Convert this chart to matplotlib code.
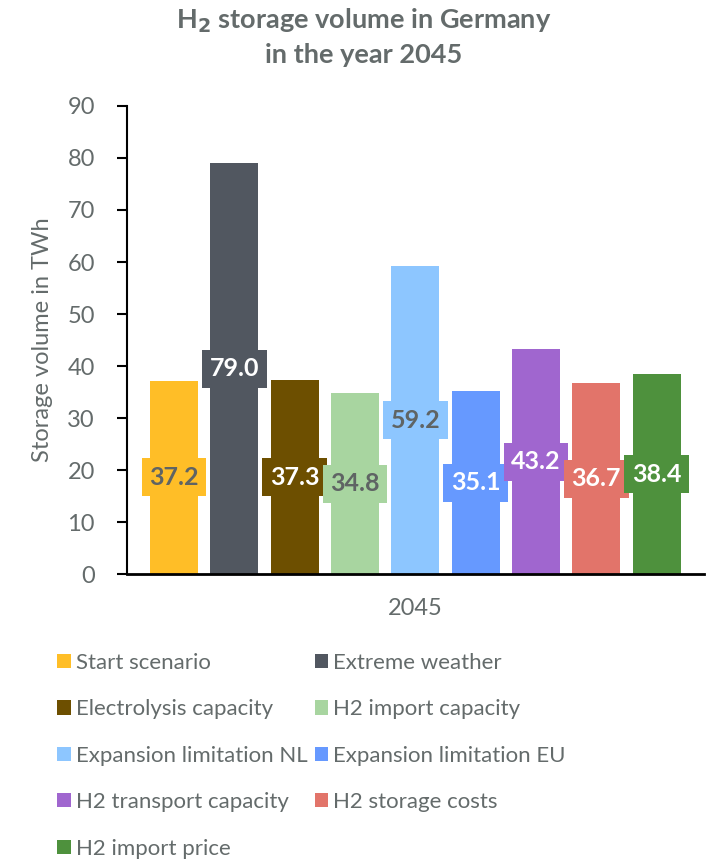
import numpy as np
import matplotlib.pyplot as plt

scenarios = ['Start scenario', 'Extreme weather', 'Electrolysis capacity',
             'H2 import capacity', 'Expansion limitation NL', 'Expansion limitation EU',
             'H2 transport capacity', 'H2 storage costs', 'H2 import price']
volumes = [37.2, 79.0, 37.3, 34.8, 59.2, 35.1, 43.2, 36.7, 38.4]
colors = ['#FFBE27', '#515760', '#6D4F00', '#A8D5A0', '#8DC6FF',
          '#6699FF', '#A066CF', '#E2746A', '#4E913D']
label_colors = ['#5F6464', 'white', 'white', '#5F6464', '#5F6464',
                'white', 'white', 'white', 'white']
year_label = '2045'
yticks = [0, 10, 20, 30, 40, 50, 60, 70, 80, 90]

plt.rcParams['font.family'] = ['Lato', 'DejaVu Sans']
gray = '#646B6B'

fig = plt.figure(figsize=(7.13, 8.61), dpi=100)
ax = fig.add_axes([0.178, 0.3333, 0.809, 0.5436])

x = np.arange(len(volumes))
bars = []
for i, (name, v, c) in enumerate(zip(scenarios, volumes, colors)):
    b = ax.bar(x[i], v, width=0.8, color=c, label=name)
    bars.append(b)
    ax.text(x[i], v / 2, f'{v:.1f}', ha='center', va='center', fontsize=18,
            fontweight='bold', color=label_colors[i],
            bbox=dict(boxstyle='square,pad=0.3', facecolor=c, edgecolor='none'))

ax.set_xlim(-0.78, len(volumes) - 1 + 0.78)
ax.set_ylim(0, 90)
ax.set_yticks(yticks)
ax.set_xticks([(len(volumes) - 1) / 2])
ax.set_xticklabels([year_label])
ax.tick_params(axis='x', length=0, pad=17, labelsize=17, labelcolor=gray)
ax.tick_params(axis='y', length=7, width=1.5, pad=16, labelsize=17, labelcolor=gray)
for s in ['top', 'right']:
    ax.spines[s].set_visible(False)
ax.spines['left'].set_linewidth(1.5)
ax.spines['bottom'].set_linewidth(2)

ax.set_ylabel('Storage volume in TWh', fontsize=17, color=gray, labelpad=10)

fig.text(0.51, 0.993, r'H$_\mathbf{2}$ storage volume in Germany' + '\nin the year 2045',
         ha='center', va='top', fontsize=19.5, fontweight='bold', color=gray,
         linespacing=1.4)

# row-major legend order for two columns
order = [0, 2, 4, 6, 8, 1, 3, 5, 7]
leg = fig.legend([bars[k] for k in order], [scenarios[k] for k in order],
                 loc='upper left', bbox_to_anchor=(0.068, 0.252), ncol=2,
                 frameon=False, fontsize=16, handlelength=0.6, handleheight=0.6,
                 handletextpad=0.25, columnspacing=0.3, labelspacing=1.19,
                 borderaxespad=0)
for t in leg.get_texts():
    t.set_color(gray)

fig.savefig('out.png', dpi=100)
